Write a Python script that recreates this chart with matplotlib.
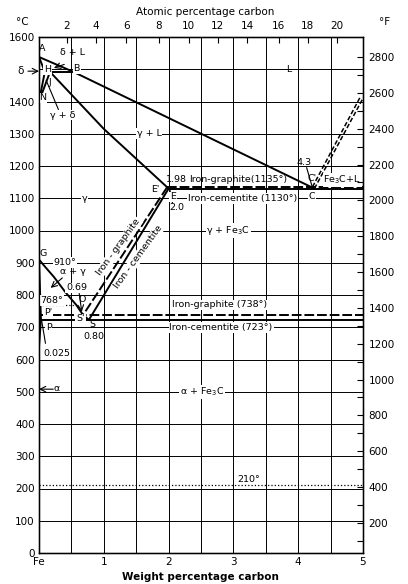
import matplotlib.pyplot as plt
import numpy as np

# ---- tick labels
temp_c_ticks = list(range(0, 1700, 100))
temp_c_labels = [str(t) if t != 1500 else '' for t in temp_c_ticks]
temp_f_ticks = list(range(200, 3000, 200))
wt_ticks = [0, 1, 2, 3, 4, 5]
wt_labels = ['Fe', '1', '2', '3', '4', '5']
# atomic % marks as drawn on the original (positions in wt %)
at_labels = ['2', '4', '6', '8', '10', '12', '14', '16', '18', '20']
at_pos_wt = [0.43, 0.88, 1.35, 1.85, 2.31, 2.76, 3.21, 3.70, 4.15, 4.60]

# ---- phase boundaries (wt % C, deg C)
liq_wt = [0.0, 0.53, 4.25]
liq_T = [1538, 1492, 1130]
ah_wt = [0.0, 0.09]
ah_T = [1538, 1492]
hb_wt = [0.09, 0.53]
hb_T = [1492, 1492]
hn_wt = [0.09, 0.0]
hn_T = [1492, 1400]
jn_wt = [0.17, 0.0]
jn_T = [1492, 1400]
sol_wt = [0.17, 1.0, 2.0]
sol_T = [1492, 1315, 1130]
acm_cem_wt = [2.0, 0.77]
acm_cem_T = [1130, 723]
acm_gra_wt = [1.98, 0.68]
acm_gra_T = [1135, 738]
a3_wt = [0.0, 0.1, 0.23, 0.41, 0.58, 0.68, 0.77]
a3_T = [910, 886, 856, 808, 768, 738, 723]
gp_wt = [0.0, 0.03]
gp_T = [910, 723]
pq_wt = [0.03, 0.0]
pq_T = [723, 640]
eut_cem_wt = [2.0, 5.0]
eut_cem_T = [1130, 1130]
eut_gra_wt = [1.98, 5.0]
eut_gra_T = [1135, 1135]
hyp_cem_wt = [4.25, 5.0]
hyp_cem_T = [1130, 1410]
hyp_gra_wt = [4.22, 4.96]
hyp_gra_T = [1135, 1415]
eutectoid_cem_wt = [0.03, 5.0]
eutectoid_cem_T = [723, 723]
eutectoid_gra_wt = [0.0, 5.0]
eutectoid_gra_T = [738, 738]
curie_wt = [0.0, 0.58]
curie_T = [768, 768]
cem_curie_wt = [0.0, 5.0]
cem_curie_T = [210, 210]

fig = plt.figure(figsize=(4.08, 5.84), dpi=100)
ax = fig.add_axes([39/408, 31/584, 324/408, 516/584])
ax.set_xlim(0, 5)
ax.set_ylim(0, 1600)

fs = 7.5   # tick labels
fl = 6.8   # labels inside the diagram
k = 'black'
lw = 1.4

# grid
ax.set_xticks(wt_ticks)
ax.set_xticklabels(wt_labels, fontsize=fs)
ax.set_xticks(np.arange(0.5, 5, 1.0), minor=True)
ax.set_yticks(temp_c_ticks)
ax.set_yticklabels(temp_c_labels, fontsize=fs)
ax.grid(True, which='both', color=k, lw=0.7)
ax.tick_params(which='both', length=0, pad=3)
ax.set_axisbelow(True)
for s in ax.spines.values():
    s.set_linewidth(1.0)

# solid boundaries
for xs, ys in [(liq_wt, liq_T), (ah_wt, ah_T), (hb_wt, hb_T), (hn_wt, hn_T),
               (jn_wt, jn_T), (sol_wt, sol_T), (acm_cem_wt, acm_cem_T),
               (a3_wt, a3_T), (gp_wt, gp_T), (pq_wt, pq_T),
               (eut_cem_wt, eut_cem_T), (eutectoid_cem_wt, eutectoid_cem_T)]:
    ax.plot(xs, ys, color=k, lw=lw, zorder=3)

# graphite (dashed) boundaries
for xs, ys in [(acm_gra_wt, acm_gra_T), (eut_gra_wt, eut_gra_T),
               (eutectoid_gra_wt, eutectoid_gra_T)]:
    ax.plot(xs, ys, color=k, lw=lw, dashes=(5, 1.5), zorder=3)
for xs, ys in [(hyp_cem_wt, hyp_cem_T), (hyp_gra_wt, hyp_gra_T)]:
    ax.plot(xs, ys, color=k, lw=1.1, dashes=(3, 1.5), zorder=3)

# dotted magnetic lines
ax.plot(curie_wt, curie_T, color=k, lw=0.9, ls=':', zorder=3)
ax.plot(cem_curie_wt, cem_curie_T, color=k, lw=0.9, ls=':', zorder=3)

wb = dict(facecolor='white', edgecolor='none', pad=0.6)

def lab(x, y, s, bg=False, **kw):
    ax.text(x, y, s, fontsize=fl, ha='center', va='center', zorder=5,
            bbox=wb if bg else None, **kw)

# point labels
lab(0.05, 1563, 'A')
lab(0.13, 1500, 'H', bg=True)
lab(0.58, 1502, 'B', bg=True)
lab(0.06, 1411, 'N', bg=True)
lab(0.17, 1460, 'J')
lab(0.07, 928, 'G')
lab(0.40, 900, '910°', bg=True)
lab(0.19, 784, '768°', bg=True)
lab(0.14, 747, "P'", bg=True)
lab(0.15, 700, 'P', bg=True)
lab(0.66, 786, 'O')
lab(0.64, 726, "S'", bg=True)
lab(0.82, 707, 'S')
lab(0.85, 670, '0.80')
lab(0.58, 822, '0.69', bg=True)
lab(0.27, 618, '0.025')
lab(1.80, 1128, "E'", bg=True)
lab(2.07, 1104, 'E', bg=True)
lab(2.12, 1072, '2.0')
lab(2.12, 1157, '1.98')
lab(4.09, 1212, '4.3')
lab(4.21, 1160, "C'")
lab(4.21, 1106, 'C', bg=True)

# region labels
lab(3.86, 1498, 'L')
lab(1.70, 1300, 'γ + L', bg=True)
lab(0.70, 1100, 'γ', bg=True)
lab(2.92, 1000, 'γ + Fe$_3$C', bg=True)
lab(2.52, 500, 'α + Fe$_3$C', bg=True)
lab(4.68, 1157, 'Fe$_3$C+L', bg=True)
lab(0.51, 1552, 'δ + L')
lab(0.52, 872, 'α + γ')
lab(0.36, 1358, 'γ + δ', bg=True)
lab(3.08, 1157, 'Iron-graphite(1135°)')
lab(3.14, 1100, 'Iron-cementite (1130°)', bg=True)
lab(2.78, 769, 'Iron-graphite (738°)', bg=True)
lab(2.81, 700, 'Iron-cementite (723°)', bg=True)
lab(3.24, 227, '210°')
lab(1.23, 949, 'Iron - graphite', rotation=54, bg=True)
lab(1.53, 918, 'Iron - cementite', rotation=54, bg=True)

# pointers
arr = dict(arrowstyle='->', color=k, lw=0.8, shrinkA=0, shrinkB=0)
ln = dict(arrowstyle='-', color=k, lw=0.8, shrinkA=0, shrinkB=0)
ax.annotate('', xy=(0.23, 1504), xytext=(0.39, 1515), arrowprops=arr)
ax.annotate('', xy=(0.11, 1466), xytext=(0.30, 1375), arrowprops=ln)
ax.annotate('', xy=(0.18, 822), xytext=(0.36, 853), arrowprops=arr)
ax.annotate('', xy=(0.66, 748), xytext=(0.62, 805), arrowprops=arr)
ax.annotate('', xy=(0.04, 722), xytext=(0.10, 650), arrowprops=ln)
ax.annotate('', xy=(4.22, 1133), xytext=(4.13, 1195), arrowprops=ln)
ax.annotate('', xy=(2.02, 1126), xytext=(2.06, 1085), arrowprops=ln)
ax.annotate('', xy=(0.0, 508), xytext=(0.22, 508), arrowprops=arr)
lab(0.27, 510, 'α')
ax.annotate('', xy=(0.0, 1494), xytext=(-0.17, 1494), arrowprops=arr,
            annotation_clip=False)
ax.text(-0.28, 1494, 'δ', fontsize=fs, ha='center', va='center')

# atomic percentage axis
ax_top = ax.twiny()
ax_top.set_xlim(0, 5)
ax_top.set_xticks(at_pos_wt)
ax_top.set_xticklabels(at_labels, fontsize=fs)
ax_top.tick_params(direction='in', length=4, width=0.8, pad=4)

# fahrenheit axis
ax_r = ax.twinx()
ax_r.set_ylim(0 * 9 / 5 + 32, 1600 * 9 / 5 + 32)
ax_r.set_yticks(temp_f_ticks)
ax_r.set_yticklabels([str(t) for t in temp_f_ticks], fontsize=fs)
ax_r.set_yticks(np.arange(100, 2900, 200), minor=True)
ax_r.tick_params(which='both', direction='in', length=4, width=0.8, pad=4)

fig.text(22/408, 1 - 22/584, '°C', fontsize=fs, ha='center', va='center')
fig.text(385/408, 1 - 22/584, '°F', fontsize=fs, ha='center', va='center')
fig.text(205/408, 1 - 12/584, 'Atomic percentage carbon', fontsize=fs,
         ha='center', va='center')
fig.text(200/408, 1 - 577/584, 'Weight percentage carbon', fontsize=fs,
         ha='center', va='center', fontweight='bold')

fig.savefig('out.png', dpi=100)
